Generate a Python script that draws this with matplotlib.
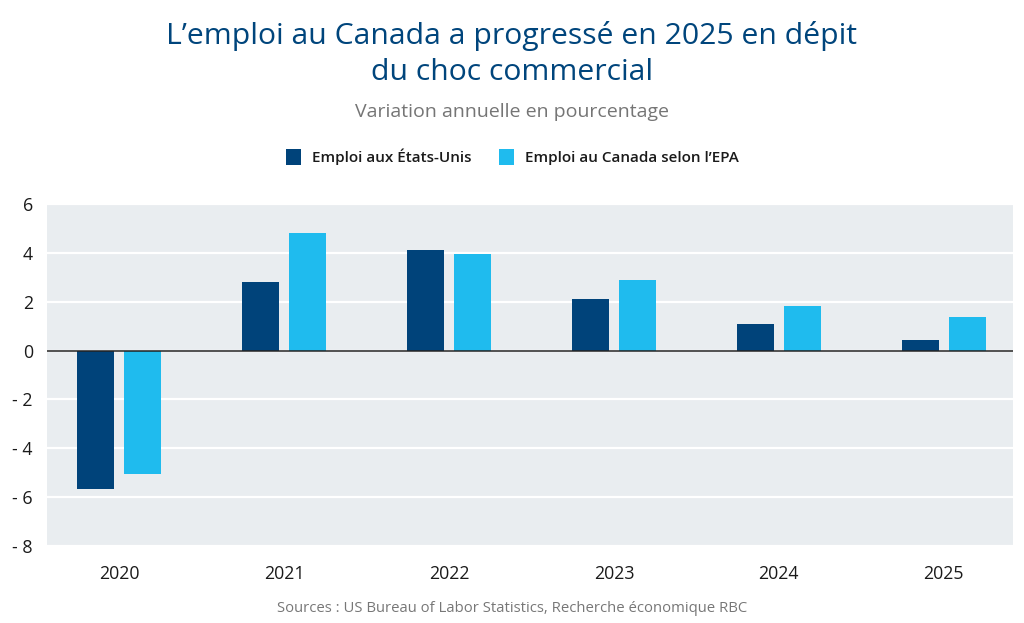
import matplotlib
matplotlib.use("Agg")
import matplotlib.pyplot as plt
import numpy as np
from matplotlib.ticker import FuncFormatter
from matplotlib.patches import Patch

years = ["2020", "2021", "2022", "2023", "2024", "2025"]
us_emp = [-5.65, 2.8, 4.13, 2.11, 1.1, 0.44]
ca_emp = [-5.07, 4.81, 3.94, 2.89, 1.81, 1.36]
series_names = ["Emploi aux États-Unis", "Emploi au Canada selon l\u2019EPA"]

title = "L\u2019emploi au Canada a progressé en 2025 en dépit\ndu choc commercial"
subtitle = "Variation annuelle en pourcentage"
source = "Sources : US Bureau of Labor Statistics, Recherche économique RBC"

c_us = "#00437a"
c_ca = "#1fbbee"
bg = "#e9edf0"

plt.rcParams['font.family'] = ['Open Sans', 'DejaVu Sans']

fig = plt.figure(figsize=(10.24, 6.23), dpi=100)
ax = fig.add_axes([46.7/1024, 1-546/623, (1013-46.7)/1024, (546-204)/623])
ax.set_facecolor(bg)

x = np.arange(len(years))
w = 0.224
off = 0.142
ax.bar(x - off, us_emp, w, color=c_us, zorder=3)
ax.bar(x + off, ca_emp, w, color=c_ca, zorder=3)

ax.set_ylim(-8, 6)
ax.set_xlim(-0.44, 5.42)
ax.set_yticks(np.arange(-8, 7, 2))
ax.yaxis.set_major_formatter(FuncFormatter(lambda v, p: f"- {abs(int(v))}" if v < 0 else f"{int(v)}"))
ax.grid(axis='y', color='white', linewidth=1.6, zorder=1)
ax.axhline(0, color='#222222', linewidth=1.1, zorder=4)
ax.set_xticks(x)
ax.set_xticklabels(years)
ax.tick_params(axis='both', length=0, labelsize=12.8, colors='#1a1a1a')
ax.tick_params(axis='x', pad=14)
ax.tick_params(axis='y', pad=10)
for s in ax.spines.values():
    s.set_visible(False)

fig.text(0.5, 1-54/623, title, ha='center', va='center', fontsize=21.7, color='#00457c',
         linespacing=1.33)
fig.text(0.5, 1-112/623, subtitle, ha='center', va='center', fontsize=14, color='#757575')

handles = [Patch(facecolor=c_us), Patch(facecolor=c_ca)]
leg = fig.legend(handles, series_names, loc='center', bbox_to_anchor=(0.5, 1-157/623),
                 ncol=2, frameon=False, fontsize=11, handlelength=1.0, handleheight=1.3,
                 columnspacing=1.8, handletextpad=0.7)
for t in leg.get_texts():
    t.set_fontweight('semibold')
    t.set_color('#1a1a1a')

fig.text(0.5, 1-608/623, source, ha='center', va='center', fontsize=10.7, color='#777777')

fig.savefig("out.png", dpi=100, facecolor='white')
